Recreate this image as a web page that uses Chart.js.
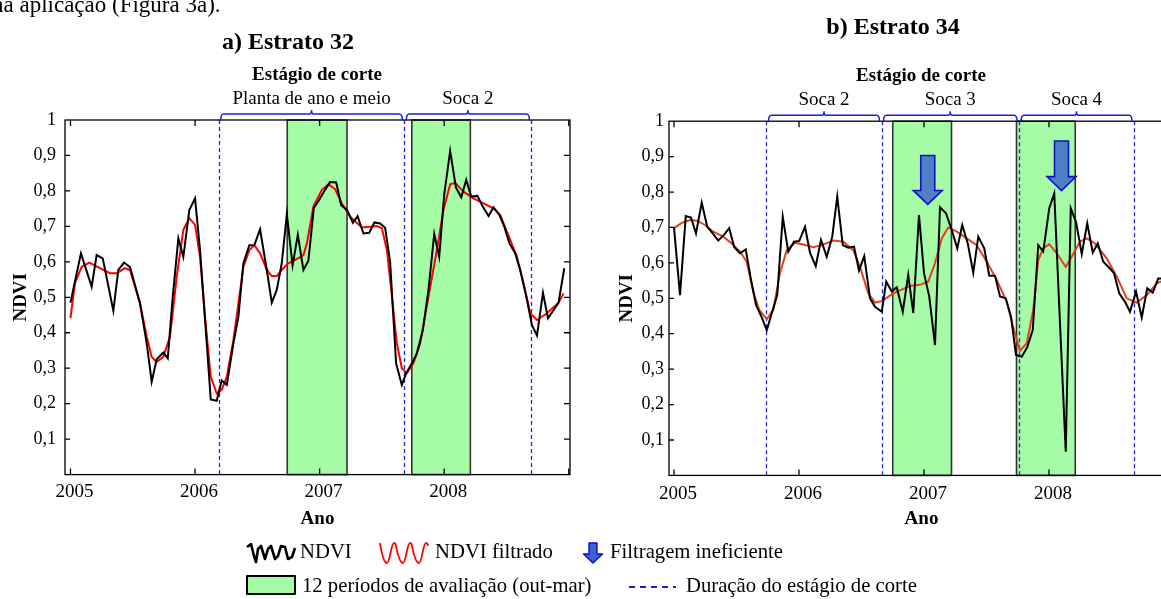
<!DOCTYPE html>
<html>
<head>
<meta charset="utf-8">
<script src="https://cdn.jsdelivr.net/npm/chart.js@4.4.0/dist/chart.umd.min.js"></script>
<style>
html, body { margin: 0; padding: 0; background: #fff; overflow: hidden; }
#wrap { position: relative; width: 1161px; height: 599px; overflow: hidden; }
canvas { position: absolute; left: 0; top: 0; }
</style>
</head>
<body>
<div id="wrap">
<canvas id="estrato32" width="1161" height="599"></canvas>
<canvas id="estrato34" width="1200" height="599"></canvas>
</div>
<script>
// ---- Estrato 32 ----
var aTime = [2005.000, 2005.084, 2005.170, 2005.210, 2005.259, 2005.344, 2005.384, 2005.430, 2005.478, 2005.558,
  2005.612, 2005.652, 2005.692, 2005.745, 2005.781, 2005.821, 2005.866, 2005.906, 2005.954, 2006.000,
  2006.040, 2006.094, 2006.126, 2006.174, 2006.214, 2006.255, 2006.308, 2006.348, 2006.388, 2006.436,
  2006.476, 2006.522, 2006.576, 2006.616, 2006.656, 2006.696, 2006.737, 2006.783, 2006.825, 2006.870,
  2006.910, 2006.953, 2006.998, 2007.044, 2007.084, 2007.133, 2007.173, 2007.221, 2007.267, 2007.305,
  2007.352, 2007.398, 2007.440, 2007.486, 2007.526, 2007.566, 2007.614, 2007.660, 2007.695, 2007.741,
  2007.781, 2007.829, 2007.874, 2007.920, 2007.960, 2008.000, 2008.048, 2008.094, 2008.137, 2008.177,
  2008.217, 2008.267, 2008.311, 2008.356, 2008.396, 2008.444, 2008.482, 2008.524, 2008.570, 2008.610,
  2008.659, 2008.704, 2008.745, 2008.793, 2008.833, 2008.878, 2008.918, 2008.964];
var aNdvi = [0.485, 0.624, 0.530, 0.619, 0.610, 0.462, 0.577, 0.598, 0.585, 0.483,
  0.370, 0.262, 0.325, 0.344, 0.328, 0.502, 0.666, 0.614, 0.746, 0.779,
  0.633, 0.370, 0.212, 0.208, 0.265, 0.253, 0.370, 0.445, 0.596, 0.647,
  0.647, 0.692, 0.577, 0.485, 0.521, 0.596, 0.734, 0.590, 0.676, 0.577,
  0.603, 0.751, 0.776, 0.803, 0.825, 0.824, 0.760, 0.746, 0.710, 0.729,
  0.680, 0.682, 0.711, 0.708, 0.696, 0.600, 0.314, 0.253, 0.286, 0.314,
  0.342, 0.408, 0.521, 0.679, 0.614, 0.789, 0.913, 0.810, 0.782, 0.831,
  0.784, 0.786, 0.755, 0.729, 0.754, 0.732, 0.700, 0.652, 0.624, 0.577,
  0.502, 0.422, 0.392, 0.513, 0.441, 0.464, 0.485, 0.582];
var aFiltTime = [2005.000, 2005.036, 2005.090, 2005.151, 2005.237, 2005.317, 2005.371, 2005.438, 2005.478, 2005.558,
  2005.612, 2005.652, 2005.692, 2005.745, 2005.799, 2005.853, 2005.906, 2005.954, 2006.000, 2006.040,
  2006.080, 2006.126, 2006.174, 2006.214, 2006.255, 2006.308, 2006.388, 2006.436, 2006.476, 2006.522,
  2006.576, 2006.616, 2006.656, 2006.696, 2006.741, 2006.817, 2006.870, 2006.898, 2006.950, 2007.018,
  2007.071, 2007.124, 2007.178, 2007.245, 2007.339, 2007.406, 2007.459, 2007.500, 2007.540, 2007.572,
  2007.620, 2007.660, 2007.700, 2007.753, 2007.807, 2007.874, 2007.941, 2007.994, 2008.048, 2008.088,
  2008.155, 2008.235, 2008.316, 2008.396, 2008.450, 2008.530, 2008.584, 2008.637, 2008.691, 2008.745,
  2008.825, 2008.918, 2008.958];
var aFilt = [0.441, 0.540, 0.586, 0.598, 0.582, 0.568, 0.568, 0.582, 0.577, 0.483,
  0.389, 0.332, 0.318, 0.332, 0.389, 0.558, 0.690, 0.723, 0.704, 0.614,
  0.445, 0.276, 0.229, 0.239, 0.276, 0.380, 0.586, 0.633, 0.647, 0.624,
  0.577, 0.560, 0.560, 0.577, 0.594, 0.608, 0.619, 0.652, 0.756, 0.803,
  0.819, 0.805, 0.765, 0.727, 0.697, 0.699, 0.701, 0.695, 0.633, 0.530,
  0.370, 0.300, 0.286, 0.314, 0.370, 0.502, 0.633, 0.746, 0.819, 0.823,
  0.798, 0.779, 0.765, 0.751, 0.732, 0.662, 0.614, 0.540, 0.455, 0.436,
  0.455, 0.485, 0.511];
var aSeasons = [[2006.74, 2007.22], [2007.74, 2008.21]];
var aCuts = [2006.19, 2007.68, 2008.70];
var aStages = ["Planta de ano e meio", "Soca 2"];

// ---- Estrato 34 ----
var bTime = [2005.000, 2005.048, 2005.094, 2005.136, 2005.176, 2005.222, 2005.266, 2005.310, 2005.354, 2005.400,
  2005.442, 2005.482, 2005.528, 2005.574, 2005.614, 2005.656, 2005.702, 2005.742, 2005.782, 2005.826,
  2005.870, 2005.914, 2005.960, 2006.002, 2006.048, 2006.088, 2006.134, 2006.176, 2006.222, 2006.266,
  2006.306, 2006.350, 2006.394, 2006.440, 2006.480, 2006.522, 2006.568, 2006.608, 2006.662, 2006.698,
  2006.742, 2006.782, 2006.830, 2006.874, 2006.914, 2006.960, 2007.000, 2007.042, 2007.088, 2007.128,
  2007.176, 2007.222, 2007.266, 2007.306, 2007.350, 2007.394, 2007.434, 2007.482, 2007.522, 2007.568,
  2007.608, 2007.654, 2007.696, 2007.736, 2007.782, 2007.826, 2007.870, 2007.914, 2007.954, 2008.002,
  2008.042, 2008.088, 2008.134, 2008.174, 2008.216, 2008.262, 2008.306, 2008.350, 2008.390, 2008.434,
  2008.474, 2008.520, 2008.562, 2008.608, 2008.648, 2008.696, 2008.742, 2008.786, 2008.830, 2008.874,
  2008.920];
var bNdvi = [0.700, 0.509, 0.732, 0.728, 0.683, 0.770, 0.702, 0.683, 0.663, 0.679,
  0.698, 0.644, 0.627, 0.638, 0.556, 0.481, 0.446, 0.410, 0.458, 0.509,
  0.730, 0.632, 0.660, 0.662, 0.702, 0.629, 0.591, 0.665, 0.617, 0.674,
  0.787, 0.650, 0.643, 0.646, 0.578, 0.619, 0.500, 0.476, 0.462, 0.547,
  0.519, 0.531, 0.462, 0.566, 0.459, 0.735, 0.571, 0.505, 0.368, 0.757,
  0.740, 0.693, 0.641, 0.707, 0.655, 0.572, 0.674, 0.641, 0.564, 0.564,
  0.505, 0.500, 0.448, 0.340, 0.335, 0.362, 0.410, 0.650, 0.632, 0.754,
  0.796, 0.429, 0.067, 0.754, 0.716, 0.625, 0.712, 0.629, 0.655, 0.603,
  0.589, 0.571, 0.514, 0.490, 0.462, 0.519, 0.446, 0.528, 0.516, 0.556,
  0.556];
var bFiltTime = [2005.000, 2005.062, 2005.128, 2005.182, 2005.248, 2005.314, 2005.394, 2005.462, 2005.528, 2005.582,
  2005.634, 2005.682, 2005.742, 2005.794, 2005.848, 2005.902, 2005.968, 2006.034, 2006.114, 2006.182,
  2006.274, 2006.354, 2006.434, 2006.488, 2006.554, 2006.608, 2006.662, 2006.754, 2006.888, 2006.968,
  2007.034, 2007.088, 2007.142, 2007.194, 2007.262, 2007.342, 2007.422, 2007.502, 2007.582, 2007.662,
  2007.720, 2007.768, 2007.822, 2007.874, 2007.914, 2007.954, 2008.002, 2008.062, 2008.134, 2008.194,
  2008.248, 2008.302, 2008.368, 2008.462, 2008.542, 2008.622, 2008.702, 2008.782, 2008.862, 2008.928];
var bFilt = [0.698, 0.713, 0.721, 0.719, 0.707, 0.688, 0.674, 0.655, 0.632, 0.603,
  0.519, 0.467, 0.441, 0.467, 0.571, 0.636, 0.657, 0.652, 0.644, 0.650,
  0.663, 0.660, 0.636, 0.589, 0.514, 0.488, 0.492, 0.514, 0.535, 0.538,
  0.547, 0.599, 0.669, 0.700, 0.688, 0.669, 0.650, 0.603, 0.552, 0.490,
  0.410, 0.352, 0.373, 0.467, 0.608, 0.641, 0.653, 0.627, 0.589, 0.625,
  0.660, 0.669, 0.655, 0.613, 0.561, 0.500, 0.488, 0.509, 0.542, 0.552];
var bSeasons = [[2006.75, 2007.22], [2007.74, 2008.21]];
var bCuts = [2005.74, 2006.66, 2007.76, 2008.68];
var bStages = ["Soca 2", "Soca 3", "Soca 4"];
var bArrowYear = [2007.03, 2008.10];
var bArrowTop = [0.903, 0.944];
var bArrowTip = [0.765, 0.804];

Chart.defaults.font.family = "'Liberation Serif', 'Times New Roman', serif";
Chart.defaults.color = '#000';

function xy(t, v) {
  return t.map(function (x, i) { return { x: x, y: v[i] }; });
}

function yTick(v) {
  if (v < 0.05) return '';
  return String(Math.round(v * 10) / 10).replace('.', ',');
}

function text(ctx, s, x, y, font, align) {
  ctx.font = font;
  ctx.textAlign = align || 'center';
  ctx.textBaseline = 'middle';
  ctx.fillStyle = '#000';
  ctx.fillText(s, x, y);
}

function brace(ctx, x1, x2, y) {
  var m = (x1 + x2) / 2;
  ctx.beginPath();
  ctx.moveTo(x1, y + 6);
  ctx.quadraticCurveTo(x1, y, x1 + 3, y);
  ctx.lineTo(m - 2, y);
  ctx.quadraticCurveTo(m, y, m, y - 4);
  ctx.quadraticCurveTo(m, y, m + 2, y);
  ctx.lineTo(x2 - 3, y);
  ctx.quadraticCurveTo(x2, y, x2, y + 6);
  ctx.stroke();
}

function downArrow(ctx, cx, top, tip, shaft, head, headH) {
  ctx.beginPath();
  ctx.moveTo(cx - shaft / 2, top);
  ctx.lineTo(cx + shaft / 2, top);
  ctx.lineTo(cx + shaft / 2, tip - headH);
  ctx.lineTo(cx + head / 2, tip - headH);
  ctx.lineTo(cx, tip);
  ctx.lineTo(cx - head / 2, tip - headH);
  ctx.lineTo(cx - shaft / 2, tip - headH);
  ctx.closePath();
  ctx.fill();
  ctx.stroke();
}

function makeOverlay(cfg) {
  return {
    id: 'overlay',
    beforeDatasetsDraw: function (chart) {
      var ctx = chart.ctx, a = chart.chartArea, x = chart.scales.x;
      ctx.save();
      cfg.seasons.forEach(function (s) {
        var x1 = x.getPixelForValue(s[0]), x2 = x.getPixelForValue(s[1]);
        ctx.fillStyle = '#a6fba6';
        ctx.fillRect(x1, a.top, x2 - x1, a.bottom - a.top);
        ctx.strokeStyle = '#333';
        ctx.lineWidth = 1.6;
        ctx.strokeRect(x1, a.top, x2 - x1, a.bottom - a.top);
      });
      ctx.setLineDash([4, 3]);
      ctx.strokeStyle = '#2323dc';
      ctx.lineWidth = 1.3;
      cfg.cuts.forEach(function (c) {
        var px = Math.round(x.getPixelForValue(c)) + 0.5;
        ctx.beginPath();
        ctx.moveTo(px, a.top);
        ctx.lineTo(px, a.bottom);
        ctx.stroke();
      });
      ctx.restore();
    },
    afterDatasetsDraw: function (chart) {
      var ctx = chart.ctx, a = chart.chartArea, x = chart.scales.x, y = chart.scales.y;
      ctx.save();
      // arrows
      if (cfg.arrows) {
        ctx.fillStyle = '#4f7fc4';
        ctx.strokeStyle = '#1010c8';
        ctx.lineWidth = 1.6;
        cfg.arrows.year.forEach(function (t, i) {
          downArrow(ctx, x.getPixelForValue(t), y.getPixelForValue(cfg.arrows.top[i]),
            y.getPixelForValue(cfg.arrows.tip[i]), 14, 29, 14);
        });
      }
      // frame and inward ticks
      ctx.strokeStyle = '#000';
      ctx.lineWidth = 1.3;
      ctx.strokeRect(a.left, a.top, a.right - a.left, a.bottom - a.top);
      ctx.beginPath();
      x.ticks.forEach(function (t) {
        var px = x.getPixelForValue(t.value);
        ctx.moveTo(px, a.top); ctx.lineTo(px, a.top + 6);
        ctx.moveTo(px, a.bottom); ctx.lineTo(px, a.bottom - 6);
      });
      y.ticks.forEach(function (t) {
        if (t.value < 0.05 || t.value > 0.95) return;
        var py = y.getPixelForValue(t.value);
        ctx.moveTo(a.left, py); ctx.lineTo(a.left + 5, py);
        ctx.moveTo(a.right, py); ctx.lineTo(a.right - 6, py);
      });
      ctx.stroke();
      ctx.restore();
    },
    afterDraw: function (chart) {
      var ctx = chart.ctx, a = chart.chartArea, x = chart.scales.x;
      ctx.save();
      ctx.strokeStyle = '#1c1cdc';
      ctx.lineWidth = 1.5;
      for (var i = 0; i < cfg.stages.length; i++) {
        var x1 = x.getPixelForValue(cfg.cuts[i]) + 2, x2 = x.getPixelForValue(cfg.cuts[i + 1]) - 2;
        brace(ctx, x1, x2, a.top - 6);
        text(ctx, cfg.stages[i], (x1 + x2) / 2, a.top - 21, '19px "Liberation Serif"');
      }
      text(ctx, cfg.title, cfg.titleX, cfg.titleY, 'bold 24px "Liberation Serif"');
      text(ctx, 'Estágio de corte', cfg.stageX, a.top - 45, 'bold 19px "Liberation Serif"');
      text(ctx, 'Ano', (a.left + a.right) / 2, a.bottom + 44, 'bold 19px "Liberation Serif"');
      ctx.save();
      ctx.translate(cfg.ndviX, (a.top + a.bottom) / 2);
      ctx.rotate(-Math.PI / 2);
      text(ctx, 'NDVI', 0, 0, 'bold 19px "Liberation Serif"');
      ctx.restore();
      if (cfg.legend) drawLegend(ctx);
      ctx.restore();
    }
  };
}

function drawLegend(ctx) {
  var f = '20.7px "Liberation Serif"';
  // page text cut at the top
  ctx.font = '23px "Liberation Serif"';
  ctx.textAlign = 'left';
  ctx.textBaseline = 'alphabetic';
  ctx.fillStyle = '#000';
  ctx.fillText('na aplicação (Figura 3a).', -8, 12);

  // NDVI squiggle
  var pts = [[0, 5], [4, 2], [7, 14], [9, 20], [11, 7], [14, 4], [18, 17], [21, 7], [24, 4], [28, 17],
    [31, 14], [34, 4], [38, 5], [41, 17], [45, 15], [48, 6]];
  ctx.strokeStyle = '#000';
  ctx.lineWidth = 2.6;
  ctx.lineJoin = 'round';
  ctx.beginPath();
  pts.forEach(function (p, i) {
    if (i === 0) ctx.moveTo(247 + p[0], 542 + p[1]); else ctx.lineTo(247 + p[0], 542 + p[1]);
  });
  ctx.stroke();
  text(ctx, 'NDVI', 300, 553, f, 'left');

  // filtered squiggle
  ctx.strokeStyle = '#ff0000';
  ctx.lineWidth = 1.8;
  ctx.beginPath();
  for (var k = 0; k < 3; k++) {
    var x0 = 380 + k * 16;
    if (k === 0) ctx.moveTo(x0, 543);
    ctx.bezierCurveTo(x0 + 2, 556, x0 + 4, 563, x0 + 7, 563);
    ctx.bezierCurveTo(x0 + 10, 563, x0 + 11, 543, x0 + 14, 543);
    ctx.quadraticCurveTo(x0 + 15.5, 543, x0 + 16, 546);
  }
  ctx.stroke();
  text(ctx, 'NDVI filtrado', 435, 553, f, 'left');

  // arrow
  ctx.fillStyle = '#3b62d0';
  ctx.strokeStyle = '#0a0ad0';
  ctx.lineWidth = 1.4;
  downArrow(ctx, 593, 543, 563, 8, 19, 9);
  text(ctx, 'Filtragem ineficiente', 610, 553, f, 'left');

  // seasons box
  ctx.fillStyle = '#a6fba6';
  ctx.fillRect(247, 576, 48, 18);
  ctx.strokeStyle = '#000';
  ctx.lineWidth = 2;
  ctx.strokeRect(247, 576, 48, 18);
  text(ctx, '12 períodos de avaliação (out-mar)', 302, 587, f, 'left');

  // dashed line
  ctx.strokeStyle = '#1c1cdc';
  ctx.lineWidth = 2;
  ctx.setLineDash([6, 5]);
  ctx.beginPath();
  ctx.moveTo(629, 587);
  ctx.lineTo(676, 587);
  ctx.stroke();
  ctx.setLineDash([]);
  text(ctx, 'Duração do estágio de corte', 686, 587, f, 'left');
}

function getChartConfig(ndvi, filt, filtColor, c) {
  return {
    type: 'line',
    data: {
      datasets: [
        { label: 'NDVI', data: ndvi, borderColor: '#000', borderWidth: 2, pointRadius: 0, tension: 0 },
        { label: 'NDVI filtrado', data: filt, borderColor: filtColor, borderWidth: 2, pointRadius: 0, tension: 0 }
      ]
    },
    options: {
      responsive: false,
      animation: false,
      events: [],
      layout: { padding: c.padding },
      plugins: { legend: { display: false }, tooltip: { enabled: false } },
      scales: {
        x: {
          type: 'linear', min: c.xmin, max: c.xmax,
          grid: { display: false, drawTicks: false }, border: { display: false },
          ticks: {
            stepSize: 1, includeBounds: false, padding: c.xPad, labelOffset: 4, maxRotation: 0,
            font: { size: 19 },
            callback: function (v) { return v <= 2008 ? String(v) : ''; }
          },
          afterFit: function (s) { s.height = 50; }
        },
        y: {
          min: 0, max: 1,
          grid: { display: false, drawTicks: false }, border: { display: false },
          ticks: { stepSize: 0.1, padding: c.yPad, font: { size: 18 }, callback: yTick },
          afterFit: function (s) { s.width = c.yWidth; }
        }
      }
    },
    plugins: [makeOverlay(c)]
  };
}

var ctx = document.getElementById('estrato32').getContext('2d');
var chart32 = new Chart(ctx, getChartConfig(xy(aTime, aNdvi), xy(aFiltTime, aFilt), '#ff0000', {
  padding: { left: 0, top: 120, right: 591, bottom: 74.4 },
  xmin: 2004.956, xmax: 2009.01, xPad: 6, yPad: 9, yWidth: 65,
  seasons: aSeasons, cuts: aCuts, stages: aStages,
  title: 'a) Estrato 32', titleX: 288, titleY: 43, stageX: 317, ndviX: 21, legend: true
}));

var ctx = document.getElementById('estrato34').getContext('2d');
var chart34 = new Chart(ctx, getChartConfig(xy(bTime, bNdvi), xy(bFiltTime, bFilt), '#e2401c', {
  padding: { left: 600, top: 121.2, right: 26, bottom: 73.6 },
  xmin: 2004.96, xmax: 2009.0, xPad: 7, yPad: 5, yWidth: 69,
  seasons: bSeasons, cuts: bCuts, stages: bStages,
  arrows: { year: bArrowYear, top: bArrowTop, tip: bArrowTip },
  title: 'b) Estrato 34', titleX: 893, titleY: 28, stageX: 921, ndviX: 627, legend: false
}));
</script>
</body>
</html>
